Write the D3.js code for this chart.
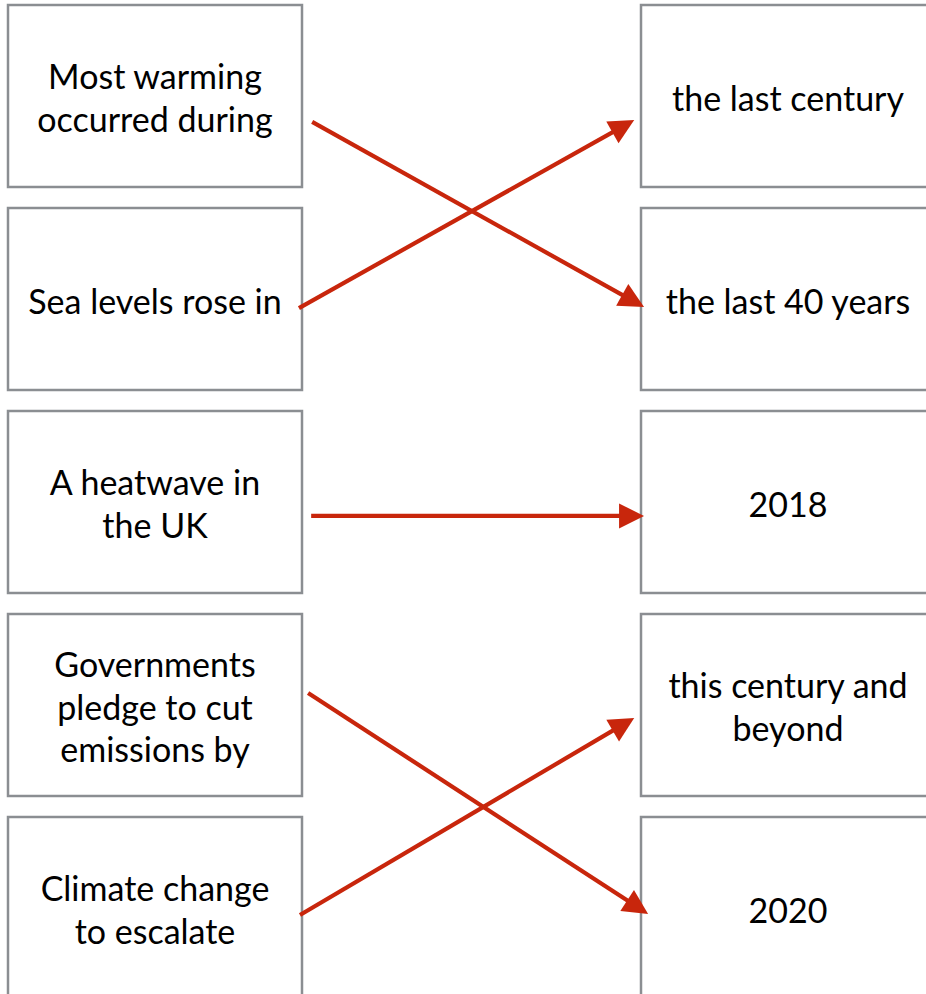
<!DOCTYPE html>
<html>
<head>
<meta charset="utf-8">
<script src="https://cdn.jsdelivr.net/npm/d3@7"></script>
<style>
  html, body { margin: 0; padding: 0; background: #fff; overflow: hidden; }
  svg { display: block; }
</style>
</head>
<body>
<svg id="chart" width="926" height="994"></svg>
<script>
// ---- data ----
const leftLabels = [
  ["Most warming", "occurred during"],
  ["Sea levels rose in"],
  ["A heatwave in", "the UK"],
  ["Governments", "pledge to cut", "emissions by"],
  ["Climate change", "to escalate"]
];
const rightLabels = [
  ["the last century"],
  ["the last 40 years"],
  ["2018"],
  ["this century and", "beyond"],
  ["2020"]
];
// arrows: start row position -> end row position (in row units), plus start/end gap fraction
const arrowFromRow = [0.576, 1.493, 2.517, 3.389, 4.483];
const arrowToRow   = [1.488, 0.567, 2.517, 4.478, 3.512];
const arrowFromGap = [0.03, -0.009, 0.027, 0.018, -0.006];
const arrowToGap   = [1.009, 0.980, 1.009, 1.021, 0.980];

// ---- layout ----
const svg = d3.select("#chart");
const rowPitch = 203, boxH = 182, boxW = 294;
const y = d3.scaleLinear().domain([0, 5]).range([5, 5 + 5 * rowPitch]);
const leftX = 8, rightX = 641;
const gx = d3.scaleLinear().domain([0, 1]).range([leftX + boxW, rightX]);

const fontFamily = "'Lato', 'Open Sans', sans-serif";
const fontSize = 34, lineH = 42.5;

function drawColumn(labels, x0) {
  const g = svg.append("g");
  const cells = g.selectAll("g.cell").data(labels).join("g").attr("class", "cell");
  cells.append("rect")
    .attr("x", x0)
    .attr("y", (d, i) => y(i))
    .attr("width", boxW)
    .attr("height", boxH)
    .attr("fill", "#fff")
    .attr("stroke", "#8b8e92")
    .attr("stroke-width", 2.5);
  cells.each(function(lines, i) {
    const cy = y(i) + boxH / 2 + 1;
    const n = lines.length;
    d3.select(this).selectAll("text").data(lines).join("text")
      .attr("x", x0 + boxW / 2)
      .attr("y", (l, k) => cy + (k - (n - 1) / 2) * lineH)
      .attr("text-anchor", "middle")
      .attr("dominant-baseline", "central")
      .attr("font-family", fontFamily)
      .attr("font-size", fontSize)
      .attr("fill", "#000")
      .text(l => l);
  });
}
drawColumn(leftLabels, leftX);
drawColumn(rightLabels, rightX);

// ---- arrows ----
const red = "#c8260c";
const headLen = 25, headW = 25;
const arrows = arrowFromRow.map((r, i) => ({
  x1: gx(arrowFromGap[i]), y1: y(r),
  x2: gx(arrowToGap[i]), y2: y(arrowToRow[i])
}));
const ag = svg.append("g");
arrows.forEach(a => {
  const dx = a.x2 - a.x1, dy = a.y2 - a.y1;
  const len = Math.hypot(dx, dy);
  const ux = dx / len, uy = dy / len;
  const px = -uy, py = ux;
  const bx = a.x2 - ux * headLen, by = a.y2 - uy * headLen;
  ag.append("line")
    .attr("x1", a.x1).attr("y1", a.y1)
    .attr("x2", bx + ux * 4).attr("y2", by + uy * 4)
    .attr("stroke", red).attr("stroke-width", 4.2);
  ag.append("path")
    .attr("d", d3.line()([
      [a.x2, a.y2],
      [bx + px * headW / 2, by + py * headW / 2],
      [bx - px * headW / 2, by - py * headW / 2]
    ]) + "Z")
    .attr("fill", red);
});
</script>
</body>
</html>
